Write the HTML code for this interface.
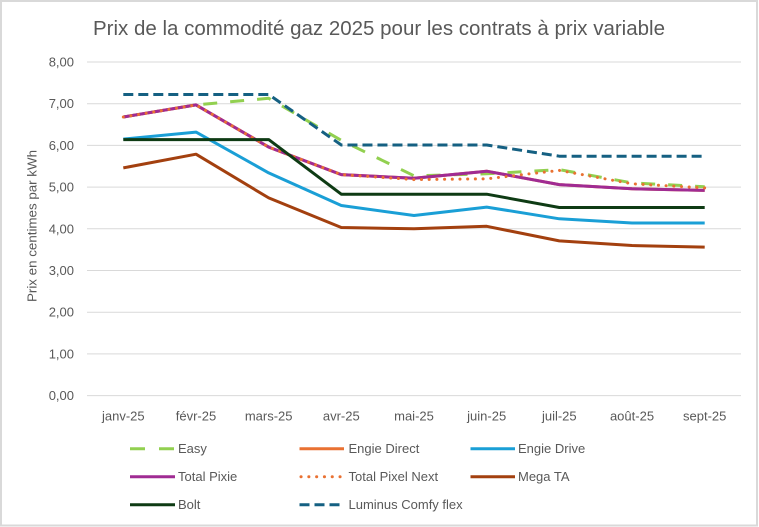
<!DOCTYPE html>
<html><head><meta charset="utf-8"><style>
html,body{margin:0;padding:0;background:#fff;}
svg{display:block;}
text{font-family:"Liberation Sans",sans-serif;fill:#595959;}
</style></head><body>
<svg width="759" height="527" viewBox="0 0 759 527" xmlns="http://www.w3.org/2000/svg">
<rect x="0" y="0" width="759" height="527" fill="#fff"/>
<rect x="1" y="1" width="756" height="524.5" fill="#fff" stroke="#d9d9d9" stroke-width="2"/>
<text x="379" y="35" font-size="20" text-anchor="middle" textLength="572" lengthAdjust="spacingAndGlyphs">Prix de la commodité gaz 2025 pour les contrats à prix variable</text>
<g stroke="#d9d9d9" stroke-width="1">
<line x1="87" x2="741" y1="62" y2="62"/>
<line x1="87" x2="741" y1="103.7" y2="103.7"/>
<line x1="87" x2="741" y1="145.4" y2="145.4"/>
<line x1="87" x2="741" y1="187.1" y2="187.1"/>
<line x1="87" x2="741" y1="228.8" y2="228.8"/>
<line x1="87" x2="741" y1="270.5" y2="270.5"/>
<line x1="87" x2="741" y1="312.2" y2="312.2"/>
<line x1="87" x2="741" y1="353.9" y2="353.9"/>
<line x1="87" x2="741" y1="395.6" y2="395.6"/>
</g>
<g font-size="13" text-anchor="end">
<text x="74" y="66.5">8,00</text>
<text x="74" y="108.2">7,00</text>
<text x="74" y="149.9">6,00</text>
<text x="74" y="191.6">5,00</text>
<text x="74" y="233.3">4,00</text>
<text x="74" y="275">3,00</text>
<text x="74" y="316.7">2,00</text>
<text x="74" y="358.4">1,00</text>
<text x="74" y="400.1">0,00</text>
</g>
<text transform="translate(36.5,226) rotate(-90)" font-size="13" text-anchor="middle" textLength="152" lengthAdjust="spacingAndGlyphs">Prix en centimes par kWh</text>
<g font-size="13" text-anchor="middle">
<text x="123.3" y="420.5">janv-25</text>
<text x="196" y="420.5">févr-25</text>
<text x="268.7" y="420.5">mars-25</text>
<text x="341.3" y="420.5">avr-25</text>
<text x="414" y="420.5">mai-25</text>
<text x="486.7" y="420.5">juin-25</text>
<text x="559.3" y="420.5">juil-25</text>
<text x="632" y="420.5">août-25</text>
<text x="704.7" y="420.5">sept-25</text>
</g>
<g fill="none" stroke-width="3" stroke-linejoin="round">
<polyline stroke="#92D050" stroke-dasharray="14 13" points="123.3,117 196,104.9 268.7,98.3 341.3,140.4 414,175.8 486.7,173.8 559.3,169.6 632,182.9 704.7,186.7"/>
<polyline stroke="#E97132" points="123.3,117 196,104.9 268.7,147.1 341.3,174.6 414,178.3 486.7,171.2 559.3,184.6 632,188.8 704.7,190.4"/>
<polyline stroke="#1A9FD6" points="123.3,139.1 196,132.1 268.7,172.9 341.3,205.5 414,215.5 486.7,207.1 559.3,218.8 632,223 704.7,223"/>
<polyline stroke="#A02B93" points="123.3,117 196,104.9 268.7,147.1 341.3,174.6 414,178.3 486.7,171.2 559.3,184.6 632,188.8 704.7,190.4"/>
<polyline stroke="#E97132" stroke-linecap="round" stroke-dasharray="0.1 7.6" points="123.3,117 196,104.9 268.7,147.1 341.3,174.6 414,179.6 486.7,178.8 559.3,170.4 632,183.8 704.7,187.9"/>
<polyline stroke="#A3400F" points="123.3,167.9 196,154.2 268.7,197.9 341.3,227.5 414,228.8 486.7,226.3 559.3,240.9 632,245.5 704.7,247.1"/>
<polyline stroke="#0E3B14" points="123.3,139.6 196,139.6 268.7,139.6 341.3,194.2 414,194.2 486.7,194.2 559.3,207.5 632,207.5 704.7,207.5"/>
<polyline stroke="#156082" stroke-dasharray="10 5" points="123.3,94.5 196,94.5 268.7,94.5 341.3,145 414,145 486.7,145 559.3,156.2 632,156.2 704.7,156.2"/>
</g>
<g fill="none" stroke-width="3">
<line x1="130" x2="175" y1="448.7" y2="448.7" stroke="#92D050" stroke-dasharray="15 14"/>
<line x1="299.5" x2="344" y1="448.7" y2="448.7" stroke="#E97132"/>
<line x1="470.5" x2="515" y1="448.7" y2="448.7" stroke="#1A9FD6"/>
<line x1="130" x2="175" y1="476.7" y2="476.7" stroke="#A02B93"/>
<line x1="301" x2="343" y1="476.7" y2="476.7" stroke="#E97132" stroke-linecap="round" stroke-dasharray="0.1 7.7"/>
<line x1="470.5" x2="515" y1="476.7" y2="476.7" stroke="#A3400F"/>
<line x1="130" x2="175" y1="504.7" y2="504.7" stroke="#0E3B14"/>
<line x1="299.5" x2="344" y1="504.7" y2="504.7" stroke="#156082" stroke-dasharray="10 5"/>
</g>
<g font-size="13">
<text x="178" y="453.2">Easy</text>
<text x="348.5" y="453.2">Engie Direct</text>
<text x="518" y="453.2">Engie Drive</text>
<text x="178" y="481.2">Total Pixie</text>
<text x="348.5" y="481.2">Total Pixel Next</text>
<text x="518" y="481.2">Mega TA</text>
<text x="178" y="509.2">Bolt</text>
<text x="348.5" y="509.2">Luminus Comfy flex</text>
</g>
</svg>
</body></html>
